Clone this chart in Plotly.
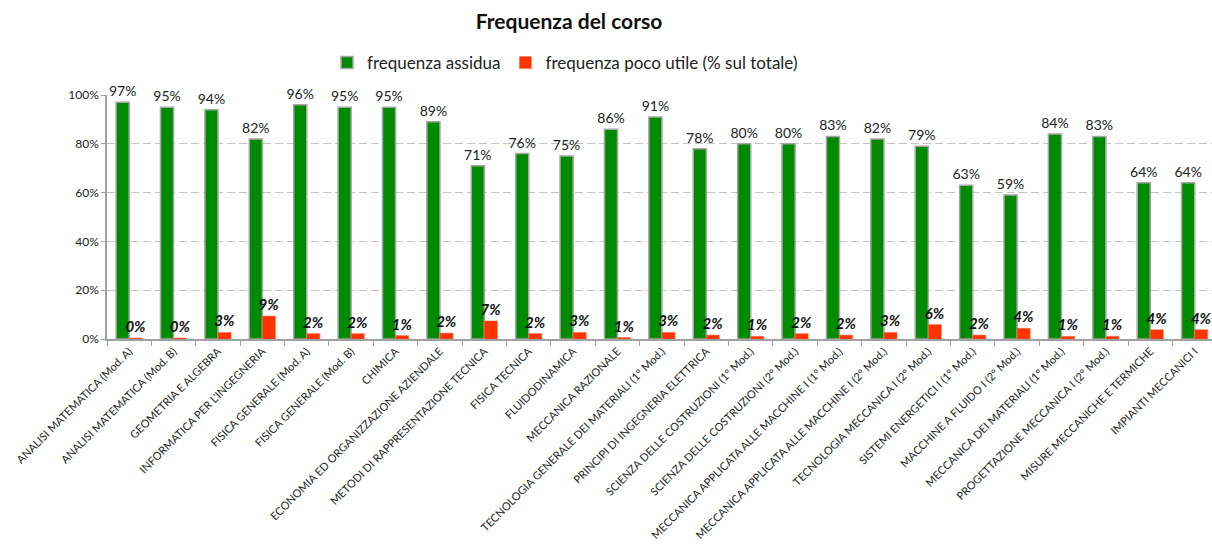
import plotly.graph_objects as go

courses = [
    "ANALISI MATEMATICA (Mod. A)",
    "ANALISI MATEMATICA (Mod. B)",
    "GEOMETRIA E ALGEBRA",
    "INFORMATICA PER L'INGEGNERIA",
    "FISICA GENERALE (Mod. A)",
    "FISICA GENERALE (Mod. B)",
    "CHIMICA",
    "ECONOMIA ED ORGANIZZAZIONE AZIENDALE",
    "METODI DI RAPPRESENTAZIONE TECNICA",
    "FISICA TECNICA",
    "FLUIDODINAMICA",
    "MECCANICA RAZIONALE",
    "TECNOLOGIA GENERALE DEI MATERIALI (1° Mod.)",
    "PRINCIPI DI INGEGNERIA ELETTRICA",
    "SCIENZA DELLE COSTRUZIONI (1° Mod.)",
    "SCIENZA DELLE COSTRUZIONI (2° Mod.)",
    "MECCANICA APPLICATA ALLE MACCHINE I (1° Mod.)",
    "MECCANICA APPLICATA ALLE MACCHINE I (2° Mod.)",
    "TECNOLOGIA MECCANICA I (2° Mod.)",
    "SISTEMI ENERGETICI I (1° Mod.)",
    "MACCHINE A FLUIDO I (2° Mod.)",
    "MECCANICA DEI MATERIALI (1° Mod.)",
    "PROGETTAZIONE MECCANICA I (2° Mod.)",
    "MISURE MECCANICHE E TERMICHE",
    "IMPIANTI MECCANICI I",
]

frequenza_assidua = [97, 95, 94, 82, 96, 95, 95, 89, 71, 76, 75, 86, 91,
                     78, 80, 80, 83, 82, 79, 63, 59, 84, 83, 64, 64]

frequenza_poco_utile = [0.4, 0.4, 2.7, 9.4, 2.2, 2.2, 1.4, 2.4, 7.4, 2.2, 2.7, 0.6, 2.7,
                        1.6, 1.1, 2.2, 1.6, 2.7, 5.9, 1.6, 4.4, 1.1, 1.1, 3.8, 3.8]

y_ticks = [0, 20, 40, 60, 80, 100]
y_tick_labels = ["0%", "20%", "40%", "60%", "80%", "100%"]

FONT = "Lato"

fig = go.Figure()

fig.add_trace(go.Bar(
    name="frequenza assidua",
    x=courses,
    y=frequenza_assidua,
    marker=dict(color="#008a00", line=dict(color="#a6a6a6", width=1.5)),
    texttemplate="%{y:.0f}%",
    textposition="outside",
    textfont=dict(family=FONT, size=14, color="#222222"),
    cliponaxis=False,
    constraintext="none",
))

fig.add_trace(go.Bar(
    name="frequenza poco utile (% sul totale)",
    x=courses,
    y=frequenza_poco_utile,
    marker=dict(color="#ff3300", line=dict(color="#ff6a4a", width=0.5)),
    texttemplate="<b><i>%{y:.0f}%</i></b>",
    textposition="outside",
    textfont=dict(family=FONT, size=15, color="#111111"),
    cliponaxis=False,
    constraintext="none",
))

fig.update_layout(
    width=1212,
    height=544,
    margin=dict(l=107, r=0, t=95, b=205),
    paper_bgcolor="white",
    plot_bgcolor="white",
    barmode="group",
    bargap=0.41,
    bargroupgap=0,
    font=dict(family=FONT, color="#222222"),
    title=dict(
        text="<b>Frequenza del corso</b>",
        x=569 / 1212,
        xanchor="center",
        xref="container",
        y=1 - 22 / 544,
        yanchor="middle",
        yref="container",
        font=dict(family=FONT, size=21, color="#111111"),
    ),
    legend=dict(
        orientation="h",
        x=327 / 1212,
        xanchor="left",
        xref="container",
        y=1 - 63 / 544,
        yanchor="middle",
        yref="container",
        font=dict(family=FONT, size=17, color="#222222"),
        itemwidth=30,
        tracegroupgap=0,
    ),
    showlegend=True,
)

fig.update_xaxes(
    type="category",
    range=[-0.5, 24.39],
    tickangle=-45,
    tickfont=dict(family=FONT, size=11, color="#222222"),
    showline=True,
    linecolor="#a0a0a0",
    linewidth=1.5,
    ticks="outside",
    tickson="boundaries",
    ticklen=5,
    tickcolor="#a0a0a0",
    showgrid=False,
    automargin=False,
)

fig.update_yaxes(
    range=[0, 100],
    tickvals=y_ticks,
    ticktext=y_tick_labels,
    tickfont=dict(family=FONT, size=12, color="#222222"),
    showline=True,
    linecolor="#a0a0a0",
    linewidth=1.5,
    ticks="outside",
    ticklen=4,
    tickcolor="#a0a0a0",
    showgrid=True,
    gridcolor="#c4c4c4",
    griddash="8px,4px",
    gridwidth=1,
    zeroline=False,
    automargin=False,
)

fig.write_html("out.html")
